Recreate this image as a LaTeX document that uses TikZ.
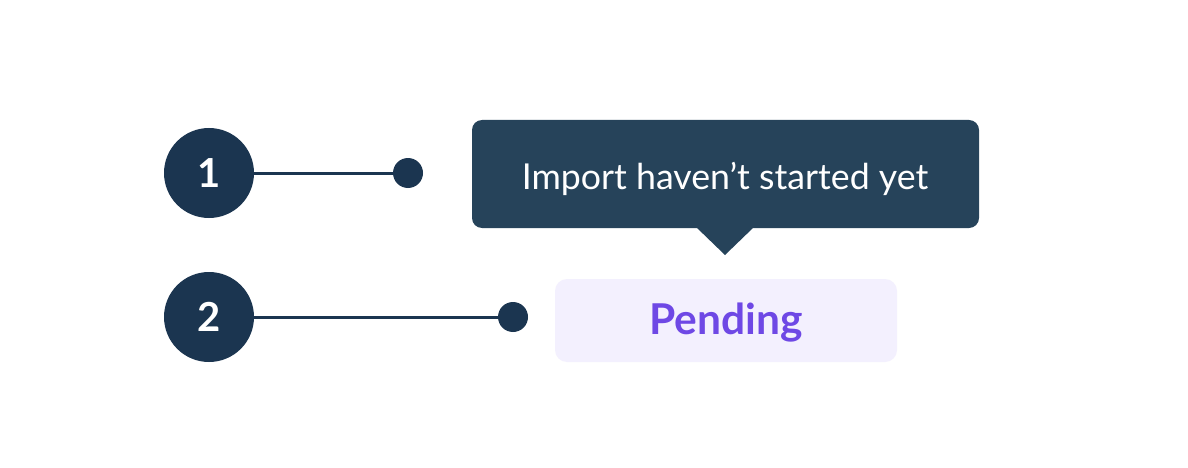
\documentclass[tikz,border=0pt]{standalone}
\usepackage{fontspec}
\setmainfont{Lato}
\definecolor{navy}{HTML}{1B3550}
\definecolor{tipbg}{HTML}{26435A}
\definecolor{pendbg}{HTML}{F3F0FE}
\definecolor{pendfg}{HTML}{6E48E5}
\begin{document}
\begin{tikzpicture}[x=1pt,y=-1pt,
  numcirc/.style={circle,fill=navy,minimum size=90pt,inner sep=0pt,text=white,font=\fontsize{40}{46}\selectfont\bfseries},
  enddot/.style={circle,fill=navy,minimum size=30pt,inner sep=0pt},
  conn/.style={draw=navy,line width=3pt}]
\useasboundingbox[fill=white] (0,0) rectangle (1188,468);
\node[numcirc] (n1) at (209,173) {1};
\node[numcirc] (n2) at (209,317) {2};
\node[enddot] (d1) at (408,173) {};
\node[enddot] (d2) at (513,317) {};
\draw[conn] (n1) -- (d1);
\draw[conn] (n2) -- (d2);
\fill[tipbg,rounded corners=10pt] (472,120) rectangle (979,228);
\fill[tipbg] (696,227) -- (754,227) -- (725,255) -- cycle;
\node[text=white,font=\fontsize{35.7}{42}\selectfont] (tip) at (725,178.5) {Import haven’t started yet};
\fill[pendbg,rounded corners=12pt] (555,279) rectangle (897,362);
\node[text=pendfg,font=\fontsize{42.5}{50}\selectfont\bfseries] (pend) at (726,322.5) {Pending};
\end{tikzpicture}
\end{document}
